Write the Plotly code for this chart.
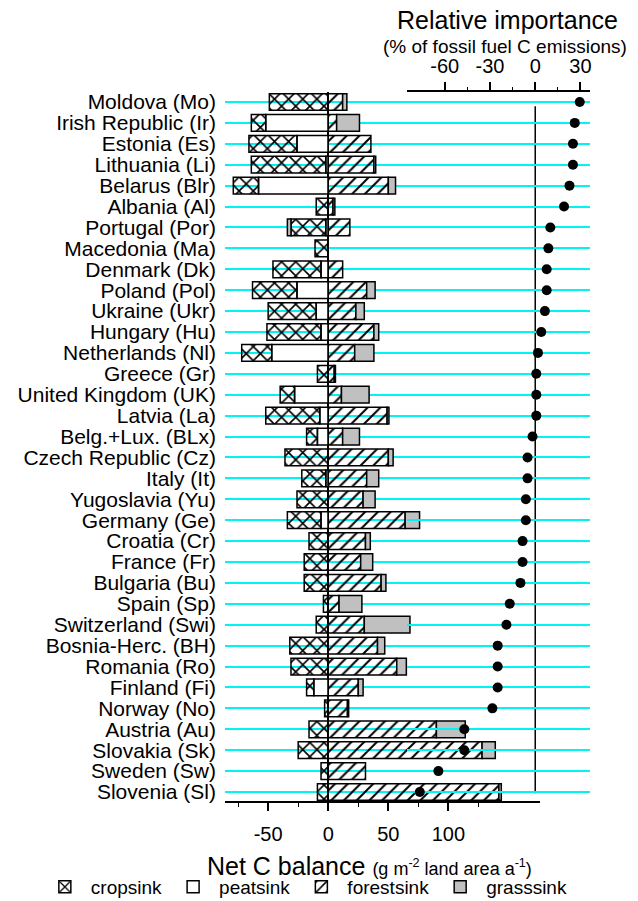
import plotly.graph_objects as go

countries = ["Moldova (Mo)", "Irish Republic (Ir)", "Estonia (Es)", "Lithuania (Li)", "Belarus (Blr)",
             "Albania (Al)", "Portugal (Por)", "Macedonia (Ma)", "Denmark (Dk)", "Poland (Pol)",
             "Ukraine (Ukr)", "Hungary (Hu)", "Netherlands (Nl)", "Greece (Gr)", "United Kingdom (UK)",
             "Latvia (La)", "Belg.+Lux. (BLx)", "Czech Republic (Cz)", "Italy (It)", "Yugoslavia (Yu)",
             "Germany (Ge)", "Croatia (Cr)", "France (Fr)", "Bulgaria (Bu)", "Spain (Sp)",
             "Switzerland (Swi)", "Bosnia-Herc. (BH)", "Romania (Ro)", "Finland (Fi)", "Norway (No)",
             "Austria (Au)", "Slovakia (Sk)", "Sweden (Sw)", "Slovenia (Sl)"]

cropsink = [-49, -12, -40, -62, -21, -10, -29, -11, -40, -37,
            -40, -45, -25, -9, -12, -45, -9, -36, -20, -26,
            -28, -16, -20, -20, -4, -10, -32, -31, -6, -3,
            -16, -25, -6, -9]
peatsink = [0, -52, -26, -2, -58, 0, -2, 0, -6, -26,
            -10, -6, -47, 0, -28, -7, -9, 0, -2, 0,
            -6, 0, 0, 0, 0, 0, 0, 0, -12, 0,
            0, 0, 0, 0]
forestsink = [12, 7, 35.5, 38, 50, 4, 18, 0, 12, 32,
              23, 38, 22, 5, 11, 49, 12, 50, 32, 29,
              64, 31, 27, 44, 9, 30, 41, 57, 25, 16,
              90, 128, 31, 142]
grasssink = [3.5, 19, 0, 1.5, 6, 1.5, -3, 0, 0, 7,
             7, 4, 16, 1, 23, 1.5, 14, 4, 10, 10,
             12, 4, 10, 4, 19, 38, 6, 8, 4, 1,
             24, 11, 0, 2]
relative_importance = [29.5, 26.2, 25, 25, 22.7, 19.1, 10, 8.7, 7.6, 7.6,
                       6.4, 4, 1.8, 0.7, 0.7, 0.7, -1.8, -5.1, -5.1, -6.2,
                       -6.2, -8.4, -8.4, -9.8, -16.9, -19.1, -24.9, -24.9, -24.9, -28.4,
                       -47, -47, -64.2, -76.5]

bottom_ticks = [-50, 0, 50, 100]
bottom_labels = ["-50", "0", "50", "100"]
bottom_minor = [-75, -25, 25, 75, 125]
top_ticks = [-60, -30, 0, 30]
top_labels = ["-60", "-30", "0", "30"]
top_minor = [-45, -15, 15]

ys = list(range(len(countries)))
FONT = "Arial, Liberation Sans, sans-serif"


def nz(vals):
    return [v if v != 0 else None for v in vals]


outline = dict(color="black", width=1.5)
fig = go.Figure()
fig.add_trace(go.Bar(x=nz(peatsink), y=ys, orientation="h", name="peatsink", legendrank=2,
                     width=0.8, marker=dict(color="white", line=outline)))
fig.add_trace(go.Bar(x=nz(cropsink), y=ys, orientation="h", name="cropsink", legendrank=1,
                     width=0.8, marker=dict(color="black", line=outline,
                                            pattern=dict(shape="x", size=10, solidity=0.3,
                                                         fgcolor="black", bgcolor="rgba(0,0,0,0)",
                                                         fillmode="replace"))))
fig.add_trace(go.Bar(x=nz(forestsink), y=ys, orientation="h", name="forestsink", legendrank=3,
                     width=0.8, marker=dict(color="black", line=outline,
                                            pattern=dict(shape="/", size=9, solidity=0.22,
                                                         fgcolor="black", bgcolor="rgba(0,0,0,0)",
                                                         fillmode="replace"))))
fig.add_trace(go.Bar(x=nz(grasssink), y=ys, orientation="h", name="grasssink", legendrank=4,
                     width=0.8, marker=dict(color="#c0c0c0", line=outline)))

fig.add_trace(go.Scatter(x=relative_importance, y=ys, xaxis="x2", yaxis="y2", mode="markers",
                         marker=dict(color="black", size=10), showlegend=False))

fig.add_shape(type="line", xref="x2", yref="y2 domain", x0=0, x1=0, y0=0.011, y1=0.98,
              line=dict(color="black", width=1.5), layer="below")

yrange = [33.43, -0.478]
fig.update_layout(
    width=638, height=901,
    margin=dict(l=225, r=48, t=92, b=100, autoexpand=False),
    paper_bgcolor="white", plot_bgcolor="rgba(0,0,0,0)",
    barmode="relative", bargap=0.2,
    font=dict(family=FONT, color="black", size=20),
    xaxis=dict(domain=[0, 0.863], range=[-85.9, 176.2], anchor="y", side="bottom",
               tickmode="array", tickvals=bottom_ticks, ticktext=bottom_labels,
               ticks="outside", ticklen=8, tickwidth=1.5,
               tickcolor="black", showline=True, linecolor="black", linewidth=1.5,
               showgrid=False, zeroline=True, zerolinecolor="black", zerolinewidth=2,
               tickfont=dict(size=20), ticklabelstandoff=6,
               minor=dict(tickmode="array", tickvals=bottom_minor, ticks="outside", ticklen=4,
                          tickwidth=1.2, tickcolor="black", showgrid=False)),
    xaxis2=dict(domain=[0.4986, 1], range=[-85, 36.3], anchor="y2", side="top",
                tickmode="array", tickvals=top_ticks, ticktext=top_labels,
                ticks="outside", ticklen=8, tickwidth=1.5,
                tickcolor="black", showline=True, linecolor="black", linewidth=1.5,
                showgrid=False, zeroline=False, tickfont=dict(size=20), ticklabelstandoff=1,
                minor=dict(tickmode="array", tickvals=top_minor, ticks="outside", ticklen=3,
                           tickwidth=1.2, tickcolor="black", showgrid=False)),
    yaxis=dict(domain=[0, 1], range=yrange, anchor="x", tickmode="array", tickvals=ys,
               ticktext=countries, ticks="", showgrid=True, gridcolor="#00f4f4", gridwidth=2,
               zeroline=False, showline=False, tickfont=dict(size=21), ticklabelstandoff=8),
    yaxis2=dict(domain=[0, 1], range=yrange, anchor="x2", tickmode="array", tickvals=ys,
                showticklabels=False, ticks="", showgrid=True, gridcolor="#00f4f4", gridwidth=2,
                zeroline=False, showline=False),
    legend=dict(orientation="h", xref="paper", yref="paper", x=-0.51, y=-0.1213,
                xanchor="left", yanchor="middle", font=dict(size=19), traceorder="normal",
                itemwidth=42, bgcolor="rgba(0,0,0,0)", borderwidth=0),
    showlegend=True,
)

fig.add_annotation(text="Relative importance", xref="paper", yref="paper", x=0.775, y=1.101,
                   showarrow=False, font=dict(size=25), xanchor="center", yanchor="middle")
fig.add_annotation(text="(% of fossil fuel C emissions)", xref="paper", yref="paper", x=0.767, y=1.064,
                   showarrow=False, font=dict(size=19), xanchor="center", yanchor="middle")
fig.add_annotation(text="Net C balance <span style='font-size:18px'>(g m<sup>-2</sup> land area a<sup>-1</sup>)</span>",
                   xref="paper", yref="paper", x=0.397, y=-0.0917, showarrow=False,
                   font=dict(size=25), xanchor="center", yanchor="middle")

fig.write_html("out.html", config={"displayModeBar": False},
               post_script="document.body.style.margin='0';document.body.style.overflow='hidden';")
